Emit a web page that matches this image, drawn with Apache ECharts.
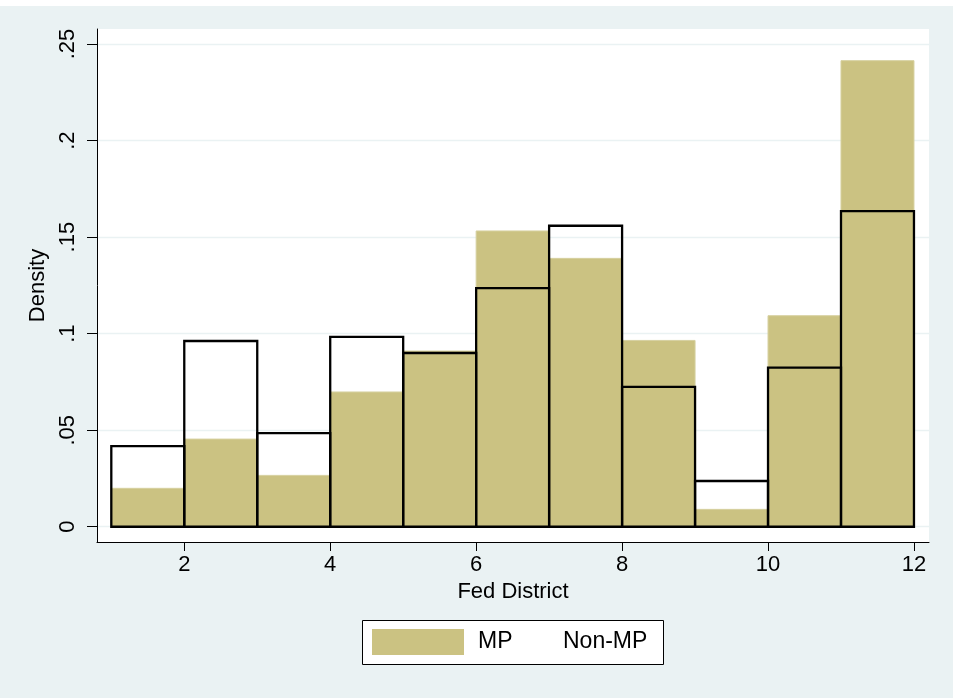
<!DOCTYPE html>
<html>
<head>
<meta charset="utf-8">
<script src="https://cdn.jsdelivr.net/npm/echarts@6/dist/echarts.min.js"></script>
<style>
html,body{margin:0;padding:0;background:#ffffff;}
#chart{width:953px;height:698px;}
</style>
</head>
<body>
<div id="chart"></div>
<script>
// Bin edges (Fed District), 11 bins of width 1 from 1 to 12
const binEdges = [1, 2, 3, 4, 5, 6, 7, 8, 9, 10, 11, 12];
// Density values
const mpDensity    = [0.0199, 0.0454, 0.0266, 0.0698, 0.0910, 0.1532, 0.1390, 0.0965, 0.0090, 0.1093, 0.2414];
const nonMpDensity = [0.0418, 0.0962, 0.0485, 0.0983, 0.0900, 0.1236, 0.1559, 0.0724, 0.0237, 0.0824, 0.1635];
// Tick values and labels
const xTicks = [2, 4, 6, 8, 10, 12];
const yTicks = [0, 0.05, 0.1, 0.15, 0.2, 0.25];
const yTickLabels = ['0', '.05', '.1', '.15', '.2', '.25'];
const seriesNames = ['MP', 'Non-MP'];
const xTitle = 'Fed District';
const yTitle = 'Density';

function toBins(vals) {
  return vals.map((v, i) => [binEdges[i], binEdges[i + 1], v]);
}

const FONT = "'Liberation Sans', Arial, sans-serif";
const BG = '#EAF2F3';
const FILL = '#CBC282';

function makeRender(styleFn) {
  return function (params, api) {
    const p0 = api.coord([api.value(0), api.value(2)]);
    const p1 = api.coord([api.value(1), 0]);
    return {
      type: 'rect',
      shape: { x: p0[0], y: p0[1], width: p1[0] - p0[0], height: p1[1] - p0[1] },
      style: styleFn()
    };
  };
}

const chart = echarts.init(document.getElementById('chart'), null, { renderer: 'canvas' });
const option = {
  backgroundColor: BG,
  animation: false,
  textStyle: { fontFamily: FONT },
  grid: {
    left: 97, right: 24, top: 29, bottom: 156,
    show: true, backgroundColor: '#ffffff', borderWidth: 0,
    containLabel: false
  },
  xAxis: {
    type: 'value',
    min: 0.804, max: 12.206,
    name: xTitle,
    nameLocation: 'middle',
    nameGap: 37,
    nameTextStyle: { fontSize: 22, color: '#000', fontFamily: FONT },
    axisLine: { show: true, onZero: false, lineStyle: { color: '#000', width: 1 } },
    axisTick: { show: true, length: 9, lineStyle: { color: '#000', width: 1 }, customValues: xTicks },
    axisLabel: { fontSize: 22, color: '#000', margin: 12, fontFamily: FONT, customValues: xTicks },
    splitLine: { show: false }
  },
  yAxis: {
    type: 'value',
    min: -0.0079, max: 0.2578,
    name: yTitle,
    nameLocation: 'middle',
    nameGap: 43,
    nameRotate: 90,
    nameTextStyle: { fontSize: 22, color: '#000', fontFamily: FONT },
    axisLine: { show: true, onZero: false, lineStyle: { color: '#000', width: 1 } },
    axisTick: { show: true, length: 10, lineStyle: { color: '#000', width: 1 }, customValues: yTicks },
    axisLabel: {
      fontSize: 22, color: '#000', margin: 18, rotate: 90, fontFamily: FONT,
      customValues: yTicks,
      formatter: function (v) {
        const i = yTicks.findIndex(t => Math.abs(t - v) < 1e-9);
        return i >= 0 ? yTickLabels[i] : '';
      }
    },
    splitLine: { show: true, lineStyle: { color: BG, width: 1.3 } }
  },
  legend: [
    {
      data: [{ name: seriesNames[0], icon: 'rect' }],
      left: 372, top: 629,
      padding: 0,
      itemWidth: 92, itemHeight: 26,
      selectedMode: false,
      textStyle: { fontSize: 23, color: '#000', fontFamily: FONT, padding: [0, 0, 0, 9] }
    },
    {
      data: [{ name: seriesNames[1], icon: 'none' }],
      left: 557, top: 629,
      padding: 0,
      itemWidth: 1, itemHeight: 26,
      selectedMode: false,
      textStyle: { fontSize: 23, color: '#000', fontFamily: FONT }
    }
  ],
  graphic: [
    { type: 'rect', z: -10, silent: true, shape: { x: 0, y: 0, width: 953, height: 6 }, style: { fill: '#ffffff' } },
    { type: 'rect', z: -1, silent: true, shape: { x: 362.5, y: 620.5, width: 301, height: 44 }, style: { fill: '#ffffff', stroke: '#000', lineWidth: 1 } }
  ],
  series: [
    {
      name: seriesNames[0],
      type: 'custom',
      itemStyle: { color: FILL },
      encode: { x: [0, 1], y: 2 },
      data: toBins(mpDensity),
      renderItem: makeRender(() => ({ fill: FILL, stroke: '#D6D09F', lineWidth: 1 })),
      z: 2
    },
    {
      name: seriesNames[1],
      type: 'custom',
      itemStyle: { color: 'transparent', borderColor: '#000' },
      encode: { x: [0, 1], y: 2 },
      data: toBins(nonMpDensity),
      renderItem: makeRender(() => ({ fill: 'none', stroke: '#000', lineWidth: 2.3 })),
      z: 3
    }
  ]
};
chart.setOption(option);
</script>
</body>
</html>
